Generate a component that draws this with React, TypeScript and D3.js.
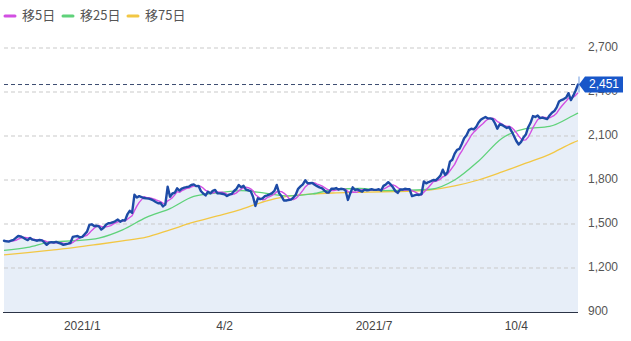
import React from 'react';
import * as d3 from 'd3';

// Daily closes (trading days, ~Nov 2020 – Nov 2021)
const closes = [
  1386, 1382, 1380, 1386, 1392, 1405, 1418, 1415, 1408, 1398,
  1390, 1405, 1393, 1390, 1386, 1391, 1388, 1375, 1358, 1372,
  1376, 1374, 1378, 1372, 1366, 1358, 1362, 1366, 1372, 1412,
  1416, 1418, 1409, 1412, 1430, 1448, 1494, 1498, 1486, 1488,
  1484, 1462, 1474, 1495, 1505, 1507, 1512, 1520, 1530, 1516,
  1526, 1523, 1565, 1590, 1576, 1700, 1680, 1690, 1684, 1677,
  1675, 1673, 1668, 1660, 1650, 1641, 1643, 1620, 1632, 1754,
  1686, 1708, 1713, 1743, 1728, 1742, 1748, 1752, 1755, 1766,
  1770, 1758, 1760, 1725, 1708, 1695, 1720, 1709, 1726, 1732,
  1709, 1709, 1706, 1702, 1691, 1700, 1705, 1725, 1740, 1766,
  1750, 1760, 1735, 1730, 1724, 1686, 1623, 1675, 1670, 1675,
  1690, 1695, 1702, 1710, 1726, 1766, 1710, 1690, 1660, 1660,
  1664, 1666, 1680, 1700, 1740, 1756, 1770, 1798, 1778, 1778,
  1780, 1768, 1758, 1750, 1744, 1730, 1715, 1715, 1740, 1740,
  1745, 1735, 1740, 1738, 1728, 1664, 1710, 1750, 1732, 1736,
  1728, 1720, 1735, 1730, 1732, 1737, 1733, 1733, 1737, 1728,
  1760, 1770, 1785, 1770, 1750, 1725, 1712, 1735, 1735, 1740,
  1738, 1737, 1690, 1695, 1700, 1698, 1703, 1790, 1777, 1786,
  1792, 1800, 1798, 1812, 1830, 1870, 1834, 1855, 1925, 1938,
  1980, 2006, 2012, 2045, 2085, 2105, 2140, 2150, 2145, 2160,
  2190, 2210, 2221, 2230, 2220, 2220, 2215, 2187, 2150, 2180,
  2175, 2165, 2155, 2160, 2132, 2100, 2066, 2042, 2060, 2090,
  2110, 2160, 2190, 2236, 2230, 2240, 2222, 2225, 2220, 2215,
  2240, 2259, 2270, 2295, 2335, 2345, 2352, 2362, 2392, 2345,
  2375, 2410, 2451,
];

// 25-day moving average, read at sampled trading days
const ma25Days = [0, 10, 20, 30, 40, 50, 60, 70, 80, 90, 100, 110, 120, 130, 140, 150, 160, 170, 180, 190, 200, 210, 220, 230, 240, 242];
const ma25Values = [1320, 1340, 1378, 1386, 1404, 1460, 1545, 1605, 1688, 1712, 1727, 1710, 1692, 1705, 1737, 1742, 1728, 1730, 1737, 1800, 1928, 2085, 2150, 2165, 2240, 2257];

// 75-day moving average, read at sampled trading days
const ma75Days = [0, 10, 20, 30, 40, 50, 60, 70, 80, 90, 100, 110, 120, 130, 140, 150, 160, 170, 180, 190, 200, 210, 220, 230, 240, 242];
const ma75Values = [1290, 1305, 1322, 1340, 1362, 1385, 1410, 1460, 1512, 1555, 1600, 1655, 1690, 1705, 1712, 1716, 1720, 1722, 1733, 1760, 1800, 1855, 1915, 1975, 2055, 2068];

const xTickDays = [33, 93, 156, 216];
const xTickLabels = ['2021/1', '4/2', '2021/7', '10/4'];
const yTicks = [900, 1200, 1500, 1800, 2100, 2400, 2700];
const legendLabels = ['移5日', '移25日', '移75日'];
const legendColors = ['#d24fe2', '#5fd27a', '#f2c744'];

const NUM_FONT = '"Liberation Sans", Arial, Helvetica, sans-serif';
const CJK_FONT = '"Noto Sans CJK JP", "Noto Sans", sans-serif';

export default function App() {
  const W = 631;
  const H = 341;
  const left = 4;
  const right = 578;
  const top = 48;
  const bottom = 312;

  const x = d3.scaleLinear().domain([0, closes.length - 1]).range([left, right]);
  const y = d3.scaleLinear().domain([900, 2700]).range([bottom, top]);

  const ma5 = closes.map((_, i) => d3.mean(closes.slice(Math.max(0, i - 4), i + 1)) as number);

  const lineIdx = d3
    .line<number>()
    .x((_, i) => x(i))
    .y((d) => y(d));

  const area = d3
    .area<number>()
    .x((_, i) => x(i))
    .y0(bottom)
    .y1((d) => y(d));

  const sparseLine = d3
    .line<[number, number]>()
    .x((d) => x(d[0]))
    .y((d) => y(d[1]))
    .curve(d3.curveMonotoneX);

  const ma25Pts = ma25Days.map((d, i) => [d, ma25Values[i]] as [number, number]);
  const ma75Pts = ma75Days.map((d, i) => [d, ma75Values[i]] as [number, number]);

  const last = closes[closes.length - 1];
  const lastY = y(last);
  const fmt = d3.format(',');

  const legendX = [5, 63, 128];

  return (
    <svg
      width={W}
      height={H}
      style={{ position: 'absolute', left: 0, top: 0, background: '#fff' }}
    >
      {/* area fill */}
      <path d={area(closes) || ''} fill="#e7eef8" stroke="none" />

      {/* grid lines */}
      {yTicks
        .filter((t) => t !== 900)
        .map((t) => (
          <line
            key={t}
            x1={left}
            x2={right}
            y1={y(t)}
            y2={y(t)}
            stroke="#c9c9c9"
            strokeWidth={1}
            strokeDasharray="4,3"
          />
        ))}

      {/* moving averages */}
      <path d={sparseLine(ma75Pts) || ''} fill="none" stroke={legendColors[2]} strokeWidth={1.3} />
      <path d={sparseLine(ma25Pts) || ''} fill="none" stroke={legendColors[1]} strokeWidth={1.3} />
      <path d={lineIdx(ma5) || ''} fill="none" stroke={legendColors[0]} strokeWidth={1.4} strokeLinejoin="round" />

      {/* close */}
      <path
        d={lineIdx(closes) || ''}
        fill="none"
        stroke="#1d4ba6"
        strokeWidth={2.4}
        strokeLinejoin="round"
        strokeLinecap="round"
      />

      {/* bottom axis */}
      <line x1={3} x2={right} y1={bottom + 0.5} y2={bottom + 0.5} stroke="#2b3346" strokeWidth={1} />

      {/* x labels */}
      {xTickDays.map((d, i) => (
        <text
          key={d}
          x={x(d)}
          y={327}
          textAnchor="middle"
          dominantBaseline="middle"
          fontFamily={NUM_FONT}
          fontSize={12}
          fill="#444"
        >
          {xTickLabels[i]}
        </text>
      ))}

      {/* y labels */}
      {yTicks.map((t) => (
        <text
          key={t}
          x={588}
          y={y(t)}
          dominantBaseline="middle"
          fontFamily={NUM_FONT}
          fontSize={12}
          fill="#555"
        >
          {fmt(t)}
        </text>
      ))}

      {/* last price dashed line */}
      <line
        x1={left}
        x2={right}
        y1={lastY}
        y2={lastY}
        stroke="#3b4c70"
        strokeWidth={1}
        strokeDasharray="4,3"
      />
      <line x1={right + 1} x2={right + 1} y1={lastY - 8} y2={lastY + 8} stroke="#6f9be0" strokeWidth={1} />

      {/* last price label */}
      <path
        d={`M${right + 1},${lastY} L${right + 7},${lastY - 8} L${623},${lastY - 8} L${623},${lastY + 8} L${right + 7},${lastY + 8} Z`}
        fill="#1857c9"
      />
      <text
        x={604}
        y={lastY + 0.5}
        textAnchor="middle"
        dominantBaseline="middle"
        fontFamily={NUM_FONT}
        fontSize={12}
        fill="#fff"
      >
        {fmt(last)}
      </text>

      {/* legend */}
      {legendLabels.map((l, i) => (
        <g key={l}>
          <line
            x1={legendX[i]}
            x2={legendX[i] + 10}
            y1={16}
            y2={16}
            stroke={legendColors[i]}
            strokeWidth={3}
            strokeLinecap="round"
          />
          <text
            x={legendX[i] + 17}
            y={16}
            dominantBaseline="middle"
            fontFamily={CJK_FONT}
            fontSize={13}
            fill="#555"
          >
            {l}
          </text>
        </g>
      ))}
    </svg>
  );
}
